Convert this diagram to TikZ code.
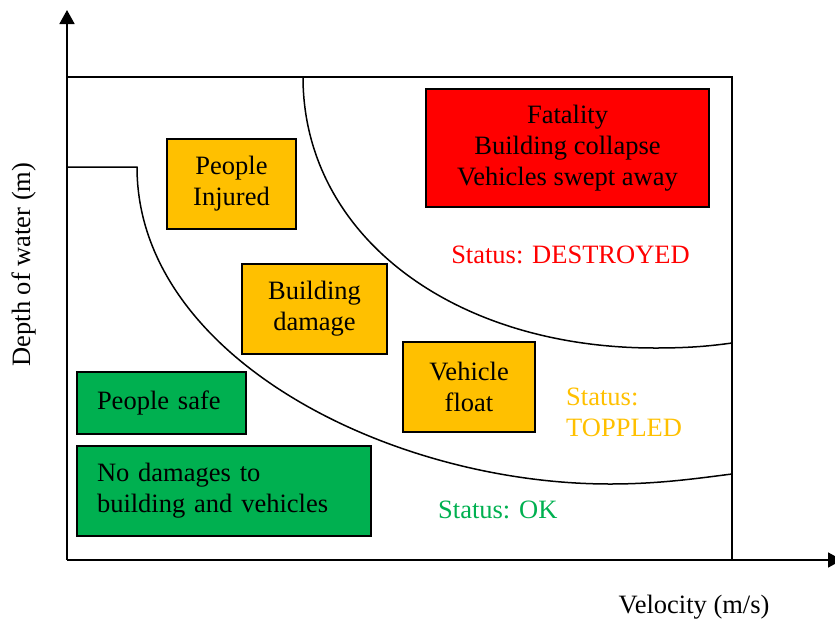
\documentclass[tikz,border=0pt]{standalone}
\usepackage{fontspec}
\setmainfont{Liberation Serif}
\usetikzlibrary{arrows.meta}
\definecolor{cOrange}{HTML}{FFC000}
\definecolor{cGreen}{HTML}{00B050}
\definecolor{cRed}{HTML}{FF0000}
\begin{document}
\begin{tikzpicture}[x=1pt,y=-1pt,
  every node/.style={font=\fontsize{26.5}{31}\selectfont},
  box/.style={draw=black,line width=1.8pt,inner sep=0pt,align=center},
  obox/.style={box,fill=cOrange},
  gbox/.style={box,fill=cGreen,align=left,inner xsep=20pt},
  rbox/.style={box,fill=cRed},
  axis/.style={line width=1.8pt,-{Triangle[length=14pt,width=15pt]}},
  frame/.style={line width=1.8pt},
  curve/.style={line width=1.5pt},
  lbl/.style={inner sep=0pt}]
\useasboundingbox (0,0) rectangle (835,619);
% axes
\coordinate (O) at (67,560);
\coordinate (ytip) at (67,10);
\coordinate (xtip) at (842,560);
\draw[axis] (O) -- (ytip);
\draw[axis] (O) -- (xtip);
% frame
\coordinate (TL) at (67,77);
\coordinate (TR) at (732,77);
\coordinate (BR) at (732,560);
\draw[frame] (TL) -- (TR) -- (BR);
% lower boundary
\draw[curve] (67,167) -- (137,167) .. controls (137,357) and (390,484) .. (610,484)
  .. controls (660,484) and (700,478) .. (732,474);
% upper boundary
\draw[curve] (303,77) .. controls (303,234) and (451,348) .. (655,348)
  .. controls (690,348) and (710,346) .. (732,343);
% boxes
\node[obox,minimum width=129pt,minimum height=90pt] (inj) at (231.5,184) {People\\Injured};
\node[rbox,minimum width=283pt,minimum height=118pt] (fat) at (567.5,148) {Fatality\\Building collapse\\Vehicles swept away};
\node[obox,minimum width=145pt,minimum height=90pt] (bld) at (314.5,309) {Building\\damage};
\node[obox,minimum width=132pt,minimum height=90pt] (veh) at (469,387) {Vehicle\\float};
\node[gbox,text width=129pt,minimum height=62pt] (safe) at (161.5,403) {People safe};
\node[gbox,text width=254pt,minimum height=90pt] (nodam) at (224,491) {No damages to\\building and vehicles};
% status labels
\node[lbl,text=cRed,anchor=base] (sdes) at (570.5,263) {Status: DESTROYED};
\node[lbl,text=cOrange,align=left,anchor=west] (stop) at (566,412) {Status:\\TOPPLED};
\node[lbl,text=cGreen,anchor=base west] (sok) at (438,518) {Status: OK};
% axis labels
\node[lbl,anchor=base] (xlab) at (694,613) {Velocity (m/s)};
\node[lbl,anchor=base,rotate=90] (ylab) at (30,264.5) {Depth of water (m)};
\end{tikzpicture}
\end{document}
